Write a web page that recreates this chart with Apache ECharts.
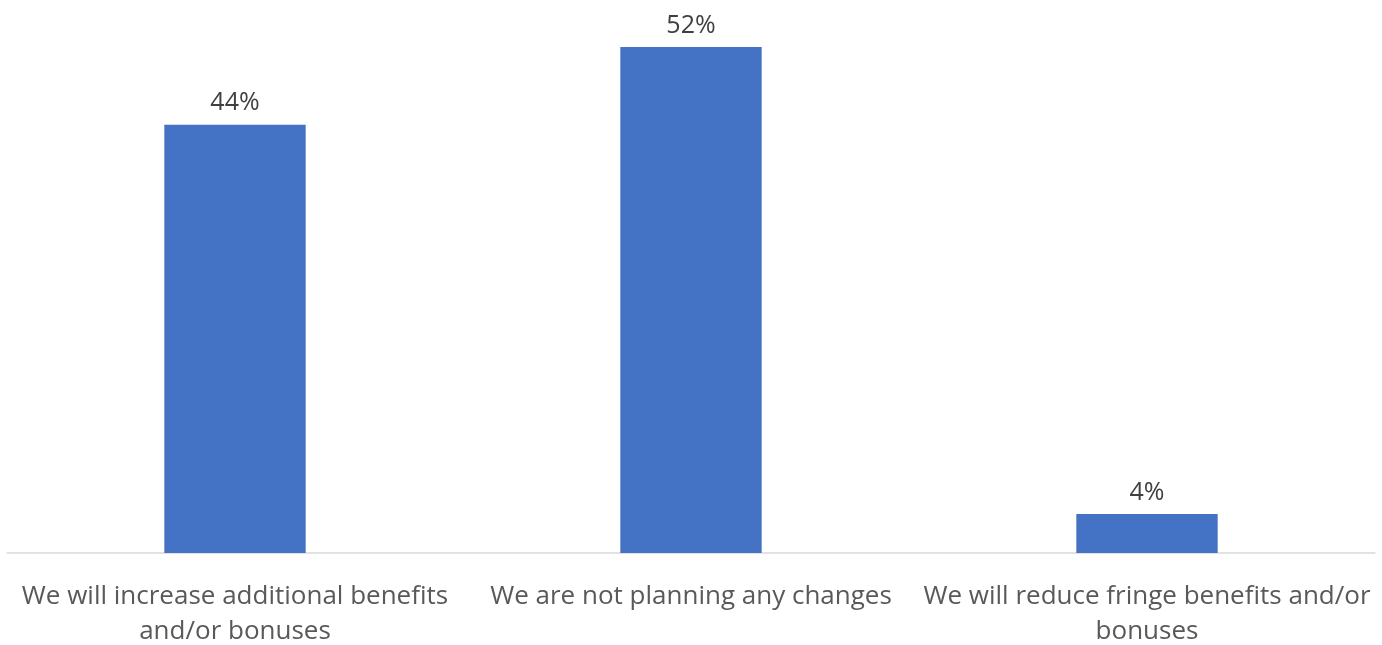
<!DOCTYPE html>
<html><head><meta charset="utf-8">
<script src="https://cdn.jsdelivr.net/npm/echarts@6/dist/echarts.min.js"></script>
<style>html,body{margin:0;padding:0;background:#fff}#c{width:1382px;height:645px}</style>
</head><body><div id="c"></div>
<script>
const categories = [
  "We will increase additional benefits\nand/or bonuses",
  "We are not planning any changes",
  "We will reduce fringe benefits and/or\nbonuses"
];
const values = [44, 52, 4];

const chart = echarts.init(document.getElementById('c'), null, {renderer: 'canvas'});
chart.setOption({
  animation: false,
  grid: {left: 7, right: 7, top: 47, bottom: 92, containLabel: false, outerBoundsMode: 'none'},
  xAxis: {
    type: 'category',
    data: categories,
    axisLine: {show: true, lineStyle: {color: '#d9d9d9', width: 1.5}},
    axisTick: {show: false},
    axisLabel: {
      interval: 0, margin: 26, color: '#595959',
      fontFamily: 'Open Sans', fontSize: 26, lineHeight: 35, align: 'center'
    }
  },
  yAxis: {
    type: 'value', min: 0, max: 52,
    show: false, splitLine: {show: false}
  },
  series: [{
    type: 'bar',
    data: values,
    barWidth: '31%',
    itemStyle: {color: '#4472C4'},
    label: {
      show: true, position: 'top', distance: 9,
      formatter: p => p.value + '%',
      color: '#404040', fontFamily: 'Open Sans', fontSize: 25
    }
  }]
});
</script></body></html>
